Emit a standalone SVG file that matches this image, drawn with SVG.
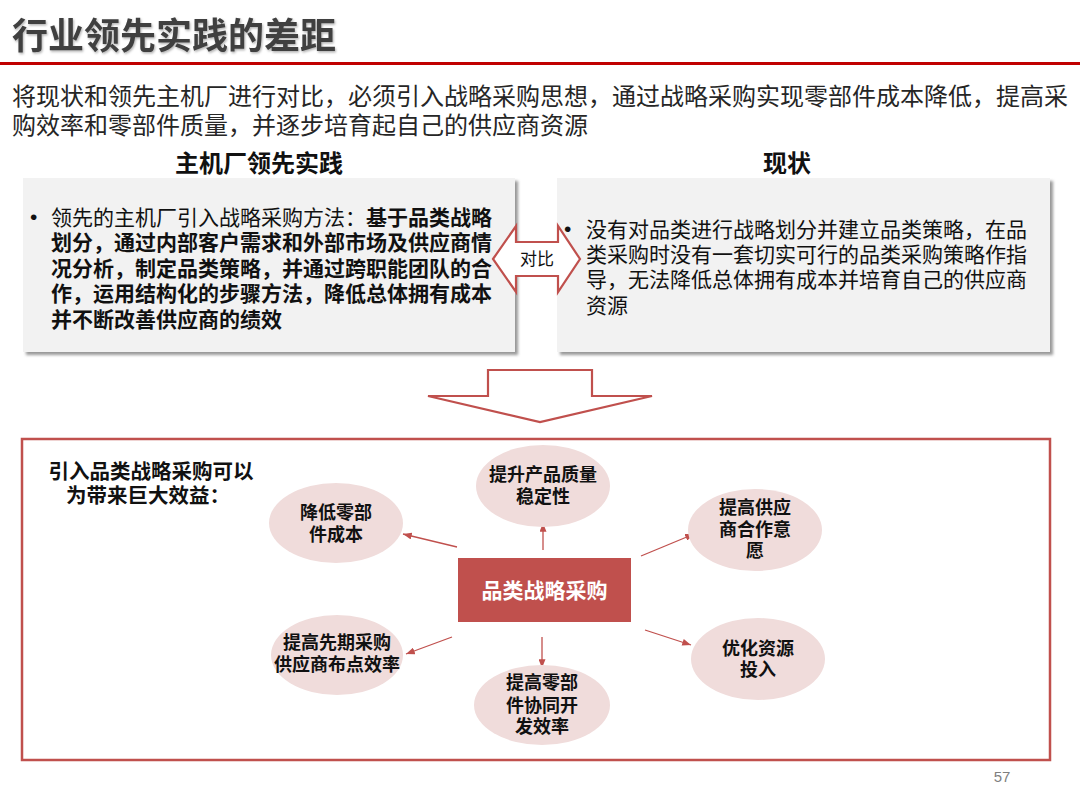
<svg xmlns="http://www.w3.org/2000/svg" width="1080" height="810" viewBox="0 0 1080 810">
<defs>
<style>
text{font-family:"Liberation Sans","Noto Sans CJK SC",sans-serif;}
.title{font-size:36px;font-weight:bold;fill:#404040;}
.sub{font-size:24px;fill:#262626;}
.hdr{font-size:24px;font-weight:bold;fill:#111;text-anchor:middle;}
.body{font-size:21px;fill:#111;}
.b{font-weight:bold;}
.graybox{fill:#F2F2F2;}
.ell{fill:#F0DCDB;}
.et{font-size:18px;font-weight:bold;fill:#111;text-anchor:middle;}
.conn{stroke:#C0504D;stroke-width:1.3;fill:none;}
.outline{fill:#FFFFFF;stroke:#C0504D;stroke-width:2.2;stroke-linejoin:miter;}
</style>
<filter id="shadow" x="-5%" y="-5%" width="115%" height="120%">
<feDropShadow dx="3" dy="3" stdDeviation="1.8" flood-color="#7F7F7F" flood-opacity="0.8"/>
</filter>
<filter id="tshadow" x="-5%" y="-20%" width="110%" height="150%">
<feDropShadow dx="1" dy="1.5" stdDeviation="0.8" flood-color="#000" flood-opacity="0.3"/>
</filter>
<marker id="ah" viewBox="0 0 10 8" refX="10" refY="4" markerWidth="9" markerHeight="7" markerUnits="userSpaceOnUse" orient="auto">
<path d="M0,0 L10,4 L0,8 z" fill="#C0504D"/>
</marker>
</defs>
<rect width="1080" height="810" fill="#FFFFFF"/>

<g id="header">
<text class="title" x="12" y="49" filter="url(#tshadow)">行业领先实践的差距</text>
<line x1="0" y1="63.5" x2="1080" y2="63.5" stroke="#C00000" stroke-width="3"/>
<text class="sub" x="12" y="105">将现状和领先主机厂进行对比，必须引入战略采购思想，通过战略采购实现零部件成本降低，提高采</text>
<text class="sub" x="12" y="134">购效率和零部件质量，并逐步培育起自己的供应商资源</text>
</g>

<g id="left-panel">
<text class="hdr" x="259" y="172">主机厂领先实践</text>
<rect class="graybox" x="23" y="178" width="492" height="174" filter="url(#shadow)"/>
<text class="body" x="30" y="224">•</text>
<text class="body" x="51" y="224.5">领先的主机厂引入战略采购方法：<tspan class="b">基于品类战略</tspan></text>
<text class="body b" x="51" y="250">划分，通过内部客户需求和外部市场及供应商情</text>
<text class="body b" x="51" y="275.5">况分析，制定品类策略，并通过跨职能团队的合</text>
<text class="body b" x="51" y="301">作，运用结构化的步骤方法，降低总体拥有成本</text>
<text class="body b" x="51" y="326.5">并不断改善供应商的绩效</text>
</g>

<g id="right-panel">
<text class="hdr" x="787" y="172">现状</text>
<rect class="graybox" x="557" y="178" width="493" height="174" filter="url(#shadow)"/>
<text class="body" x="564" y="236">•</text>
<text class="body" x="586" y="236.5">没有对品类进行战略划分并建立品类策略，在品</text>
<text class="body" x="586" y="262">类采购时没有一套切实可行的品类采购策略作指</text>
<text class="body" x="586" y="287">导，无法降低总体拥有成本并培育自己的供应商</text>
<text class="body" x="586" y="312.5">资源</text>
</g>

<g id="compare-arrow">
<polygon class="outline" points="493,259 516,226 516,242 558,242 558,226 580,259 558,292 558,276 516,276 516,292"/>
<text x="537" y="265" font-size="17" fill="#111" text-anchor="middle">对比</text>
</g>

<g id="down-arrow">
<polygon class="outline" points="488,370 592,370 592,396 652,396 540,422 428,396 488,396"/>
</g>

<g id="benefit-frame">
<rect x="22" y="439" width="1028" height="321" fill="none" stroke="#C0504D" stroke-width="2.5"/>
<text x="151" y="479" font-size="20.5" font-weight="bold" fill="#111" text-anchor="middle">引入品类战略采购可以</text>
<text x="148" y="503" font-size="20.5" font-weight="bold" fill="#111" text-anchor="middle">为带来巨大效益：</text>
</g>

<g id="connectors">
<line class="conn" x1="457" y1="547" x2="403" y2="534" marker-end="url(#ah)"/>
<line class="conn" x1="543" y1="550" x2="543" y2="523" marker-end="url(#ah)"/>
<line class="conn" x1="641" y1="556" x2="694" y2="534" marker-end="url(#ah)"/>
<line class="conn" x1="645" y1="630" x2="691" y2="645" marker-end="url(#ah)"/>
<line class="conn" x1="542" y1="637" x2="542" y2="668" marker-end="url(#ah)"/>
<line class="conn" x1="452" y1="637" x2="406" y2="654" marker-end="url(#ah)"/>
</g>

<g id="node-center">
<rect x="458" y="558" width="173" height="64" fill="#C0504D"/>
<text x="544.5" y="598" font-size="21" font-weight="bold" fill="#FFFFFF" text-anchor="middle">品类战略采购</text>
</g>

<g id="node-cost">
<ellipse class="ell" cx="336" cy="523" rx="67" ry="40"/>
<text class="et" x="336" y="519">降低零部</text>
<text class="et" x="336" y="541">件成本</text>
</g>

<g id="node-quality">
<ellipse class="ell" cx="543" cy="486" rx="67" ry="41"/>
<text class="et" x="543" y="481">提升产品质量</text>
<text class="et" x="543" y="503">稳定性</text>
</g>

<g id="node-cooperation">
<ellipse class="ell" cx="755" cy="530" rx="67" ry="41"/>
<text class="et" x="755" y="514">提高供应</text>
<text class="et" x="755" y="536">商合作意</text>
<text class="et" x="755" y="557">愿</text>
</g>

<g id="node-resources">
<ellipse class="ell" cx="758" cy="659" rx="67" ry="41"/>
<text class="et" x="758" y="655">优化资源</text>
<text class="et" x="758" y="676">投入</text>
</g>

<g id="node-development">
<ellipse class="ell" cx="542" cy="705" rx="68" ry="40"/>
<text class="et" x="542" y="689">提高零部</text>
<text class="et" x="542" y="712">件协同开</text>
<text class="et" x="542" y="733">发效率</text>
</g>

<g id="node-sourcing">
<ellipse class="ell" cx="337" cy="655" rx="66" ry="40"/>
<text class="et" x="337" y="649">提高先期采购</text>
<text class="et" x="337" y="671">供应商布点效率</text>
</g>

<text x="1002" y="782" font-size="15" fill="#7F7F7F" text-anchor="middle">57</text>
</svg>
